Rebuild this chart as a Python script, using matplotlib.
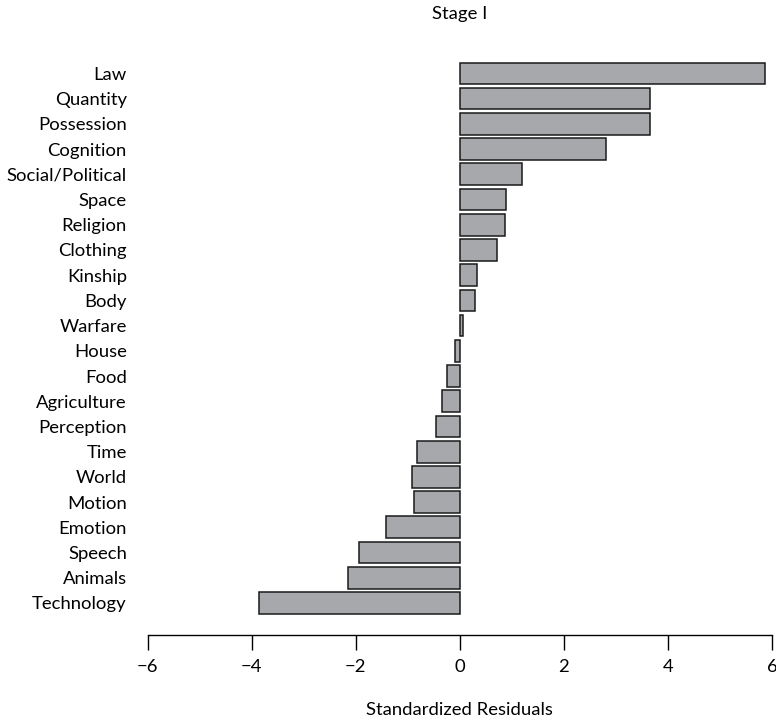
import matplotlib
matplotlib.use("Agg")
import matplotlib.pyplot as plt

plt.rcParams['font.family'] = ['Lato', 'DejaVu Sans']

# categories from top to bottom
categories = ["Law", "Quantity", "Possession", "Cognition", "Social/Political",
              "Space", "Religion", "Clothing", "Kinship", "Body", "Warfare",
              "House", "Food", "Agriculture", "Perception", "Time", "World",
              "Motion", "Emotion", "Speech", "Animals", "Technology"]
residuals = [5.86, 3.66, 3.66, 2.81, 1.20,
             0.89, 0.86, 0.72, 0.33, 0.30, 0.07,
             -0.10, -0.25, -0.35, -0.45, -0.82, -0.91,
             -0.89, -1.41, -1.94, -2.15, -3.86]
xticks = [-6, -4, -2, 0, 2, 4, 6]

n = len(categories)
ypos = [n - 1 - i for i in range(n)]

fig = plt.figure(figsize=(7.76, 7.21), dpi=100)
ax = fig.add_axes([0.1903, 0.1193, 0.8045, 0.8044])

ax.barh(ypos, residuals, height=0.86, color="#a7a8ac", edgecolor="#1a1a1a", linewidth=1.1)

ax.set_xlim(-6, 6)
ax.set_ylim(-1.27, n - 1 + 0.73)
ax.set_yticks(ypos)
ax.set_yticklabels(categories, fontsize=13.3)
ax.set_xticks(xticks)
ax.set_xticklabels(["\u2212" + str(-t) if t < 0 else str(t) for t in xticks], fontsize=13.3)

for s in ["top", "right", "left"]:
    ax.spines[s].set_visible(False)
ax.spines["bottom"].set_linewidth(1.0)
ax.tick_params(axis="y", length=0, pad=15)
ax.tick_params(axis="x", length=11, width=1.0, pad=6)

ax.set_xlabel("Standardized Residuals", fontsize=13.3, labelpad=20)
ax.set_title("Stage I", fontsize=13.3, pad=26)

fig.savefig("out.png", dpi=100)
